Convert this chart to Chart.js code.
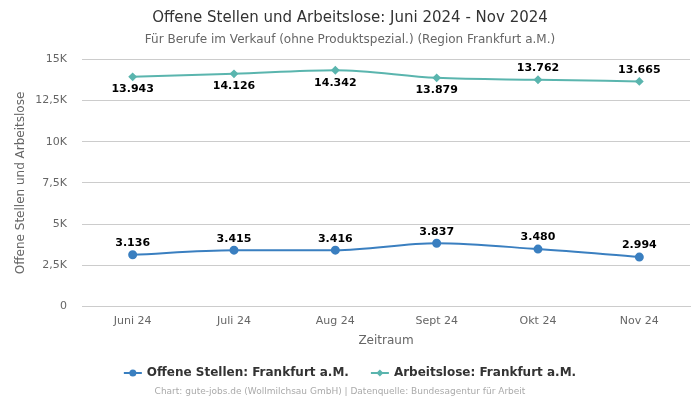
<!DOCTYPE html>
<html><head><meta charset="utf-8">
<script src="https://cdn.jsdelivr.net/npm/chart.js@4"></script>
<style>html,body{margin:0;padding:0;background:#fff}#wrap{width:700px;height:400px}</style>
</head><body><div id="wrap"><canvas id="c" width="700" height="400"></canvas></div>
<script>
const categories = ["Juni 24","Juli 24","Aug 24","Sept 24","Okt 24","Nov 24"];
const offeneStellen = [3136,3415,3416,3837,3480,2994];
const arbeitslose = [13943,14126,14342,13879,13762,13665];
const yTicks = [0,2500,5000,7500,10000,12500,15000];

const FONT = "'DejaVu Sans', sans-serif";
const blue = '#3a7fc0';
const teal = '#5ab5ae';

function fmtDE(v){return String(v).replace(/\B(?=(\d{3})+(?!\d))/g,'.');}
function fmtK(v){ if(v===0) return '0'; return (v/1000).toString().replace('.',',')+'K'; }

const labelPos = [['a','a','a','a','a','a'],['b','b','b','b','a','a']];
const dataLabels = {
  id:'dl',
  afterDatasetsDraw(chart){
    const ctx=chart.ctx; ctx.save();
    ctx.font="bold 11px "+FONT; ctx.fillStyle='#000'; ctx.textAlign='center';
    chart.data.datasets.forEach((ds,i)=>{
      chart.getDatasetMeta(i).data.forEach((p,j)=>{
        const below=labelPos[i][j]==='b';
        ctx.textBaseline= below?'top':'bottom';
        ctx.fillText(fmtDE(ds.data[j]), p.x, below? p.y+7 : p.y-6);
      });
    });
    ctx.restore();
  }
};
const legendFooter = {
  id:'legendFooter',
  afterDraw(chart){
    const ctx=chart.ctx; ctx.save();
    ctx.font="bold 12px "+FONT; ctx.textBaseline='middle'; ctx.textAlign='left';
    const ds=chart.data.datasets;
    const iconW=18, gapIT=5, gapItems=22, y=373;
    const widths=ds.map(d=>ctx.measureText(d.label).width);
    const total=widths.reduce((a,w)=>a+iconW+gapIT+w,0)+gapItems*(ds.length-1);
    let x=chart.width/2-total/2;
    ds.forEach((d,i)=>{
      ctx.strokeStyle=d.borderColor; ctx.fillStyle=d.borderColor; ctx.lineWidth=2;
      ctx.beginPath(); ctx.moveTo(x,y); ctx.lineTo(x+iconW,y); ctx.stroke();
      ctx.beginPath();
      const cx=x+iconW/2;
      if(d.pointStyle==='rectRot'){ctx.moveTo(cx,y-3.5);ctx.lineTo(cx+3.5,y);ctx.lineTo(cx,y+3.5);ctx.lineTo(cx-3.5,y);ctx.closePath();}
      else ctx.arc(cx,y,3.5,0,Math.PI*2);
      ctx.fill();
      ctx.fillStyle='#333';
      ctx.fillText(d.label,x+iconW+gapIT,y);
      x+=iconW+gapIT+widths[i]+gapItems;
    });
    ctx.font="9px "+FONT; ctx.fillStyle='#aaa'; ctx.textAlign='center';
    ctx.fillText('Chart: gute-jobs.de (Wollmilchsau GmbH) | Datenquelle: Bundesagentur für Arbeit', 340, 392);
    ctx.restore();
  }
};

new Chart(document.getElementById('c'),{
  type:'line',
  data:{labels:categories,datasets:[
    {label:'Offene Stellen: Frankfurt a.M.',data:offeneStellen,borderColor:blue,backgroundColor:blue,
     pointStyle:'circle',pointRadius:3.5,pointHoverRadius:3.5,borderWidth:2,cubicInterpolationMode:'monotone'},
    {label:'Arbeitslose: Frankfurt a.M.',data:arbeitslose,borderColor:teal,backgroundColor:teal,
     pointStyle:'rectRot',pointRadius:3,pointHoverRadius:3,borderWidth:2,cubicInterpolationMode:'monotone'}
  ]},
  options:{
    responsive:false,animation:false,
    layout:{padding:{left:10,right:10,top:0,bottom:50}},
    plugins:{
      title:{display:true,text:'Offene Stellen und Arbeitslose: Juni 2024 - Nov 2024',color:'#333',
        font:{family:FONT,size:15,weight:'normal'},padding:{top:9,bottom:6}},
      subtitle:{display:true,text:'Für Berufe im Verkauf (ohne Produktspezial.) (Region Frankfurt a.M.)',color:'#666',
        font:{family:FONT,size:12},padding:{bottom:12}},
      legend:{display:false},
      tooltip:{enabled:false}
    },
    scales:{
      x:{offset:true,grid:{display:false},border:{color:'#ccc'},
        ticks:{color:'#666',font:{family:FONT,size:11},padding:0},
        title:{display:true,text:'Zeitraum',color:'#666',font:{family:FONT,size:12},padding:{top:6,bottom:2}}},
      y:{min:0,max:15000,afterBuildTicks(ax){ax.ticks=yTicks.map(v=>({value:v}));},
        afterFit(s){s.width=72;},
        grid:{color:'#ccc',drawTicks:false},border:{display:false},
        ticks:{color:'#666',font:{family:FONT,size:11},padding:15,callback:v=>fmtK(v)},
        title:{display:true,text:'Offene Stellen und Arbeitslose',color:'#666',font:{family:FONT,size:12},padding:{top:4,bottom:4}}}
    }
  },
  plugins:[dataLabels,legendFooter]
});
</script></body></html>
